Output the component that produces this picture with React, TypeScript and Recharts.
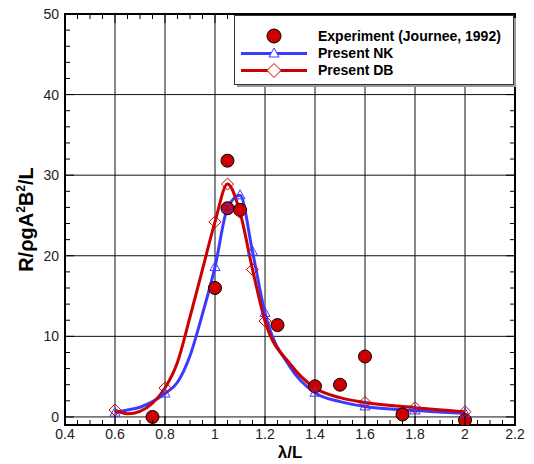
import React from "react";
import {
  ComposedChart,
  Line,
  Scatter,
  XAxis,
  YAxis,
  CartesianGrid,
  Legend,
  ReferenceArea,
} from "recharts";

// ---------- data ----------
const expX = [0.75, 1.0, 1.05, 1.05, 1.1, 1.25, 1.4, 1.5, 1.6, 1.75, 2.0];
const expY = [0.0, 16.0, 31.8, 25.9, 25.7, 11.4, 3.8, 4.0, 7.5, 0.3, -0.4];

const nkX = [0.6, 0.65, 0.7, 0.75, 0.8, 0.85, 0.9, 0.95, 1.0, 1.05, 1.1, 1.15, 1.2, 1.3, 1.4, 1.5, 1.6, 1.8, 2.0];
const nkY = [0.53, 0.85, 1.2, 1.9, 2.9, 4.3, 7.6, 12.8, 18.6, 25.9, 27.5, 20.5, 12.9, 6.2, 3.0, 1.9, 1.3, 0.8, 0.45];

const dbX = [0.6, 0.65, 0.7, 0.75, 0.8, 0.85, 0.9, 0.95, 1.0, 1.05, 1.1, 1.15, 1.2, 1.3, 1.4, 1.5, 1.6, 1.8, 2.0];
const dbY = [0.85, 0.4, 0.7, 1.7, 3.6, 6.8, 12.4, 18.3, 24.2, 28.9, 25.4, 18.3, 11.9, 6.6, 3.6, 2.4, 1.8, 1.15, 0.65];

// x positions where the computed curves carry a symbol
const markerX = [0.6, 0.8, 1.0, 1.05, 1.1, 1.15, 1.2, 1.4, 1.6, 1.8, 2.0];

const xTicks = [0.4, 0.6, 0.8, 1.0, 1.2, 1.4, 1.6, 1.8, 2.0, 2.2];
const yTicks = [0, 10, 20, 30, 40, 50];
const xMinorTicks = [
  0.45, 0.5, 0.55, 0.65, 0.7, 0.75, 0.85, 0.9, 0.95, 1.05, 1.1, 1.15, 1.25, 1.3,
  1.35, 1.45, 1.5, 1.55, 1.65, 1.7, 1.75, 1.85, 1.9, 1.95, 2.05, 2.1, 2.15,
];
const yMinorTicks = [2, 4, 6, 8, 12, 14, 16, 18, 22, 24, 26, 28, 32, 34, 36, 38, 42, 44, 46, 48];

const seriesNames = ["Experiment (Journee, 1992)", "Present NK", "Present DB"];

// ---------- built tables ----------
const expData = expX.map((x, i) => ({ x, y: expY[i] }));
const nkData = nkX.map((x, i) => ({ x, y: nkY[i] }));
const dbData = dbX.map((x, i) => ({ x, y: dbY[i] }));
const nkMarks = nkData.filter((p) => markerX.includes(p.x));
const dbMarks = dbData.filter((p) => markerX.includes(p.x));
const allXTicks = [...xTicks, ...xMinorTicks].sort((a, b) => a - b);
const allYTicks = [...yTicks, ...yMinorTicks].sort((a, b) => a - b);

// ---------- style ----------
const FONT = "'Liberation Sans', Arial, Helvetica, sans-serif";
const RED = "#cc0000";
const BLUE = "#3b3bff";
const PLOT_TOP = 14;
const PLOT_BOTTOM = 425;
const PLOT_LEFT = 65;
const PLOT_RIGHT = 515;
const MINOR = 5;
const MAJOR = 9;

const XTick = (props: any) => {
  const { x, payload } = props;
  const v = payload.value;
  const major = xTicks.includes(v);
  const len = major ? MAJOR : MINOR;
  return (
    <g>
      <line x1={x} x2={x} y1={PLOT_BOTTOM} y2={PLOT_BOTTOM - len} stroke="#000" strokeWidth={1} />
      <line x1={x} x2={x} y1={PLOT_TOP} y2={PLOT_TOP + len} stroke="#000" strokeWidth={1} />
      {major && (
        <text
          x={x}
          y={PLOT_BOTTOM + 4}
          dy="0.71em"
          textAnchor="middle"
          fontFamily={FONT}
          fontSize={14}
          fill="#222"
        >
          {String(v)}
        </text>
      )}
    </g>
  );
};

const YTick = (props: any) => {
  const { y, payload } = props;
  const v = payload.value;
  const major = yTicks.includes(v);
  const len = major ? MAJOR : MINOR;
  return (
    <g>
      <line x1={PLOT_LEFT} x2={PLOT_LEFT + len} y1={y} y2={y} stroke="#000" strokeWidth={1} />
      <line x1={PLOT_RIGHT - len} x2={PLOT_RIGHT} y1={y} y2={y} stroke="#000" strokeWidth={1} />
      {major && (
        <text
          x={PLOT_LEFT - 6}
          y={y}
          dy="0.355em"
          textAnchor="end"
          fontFamily={FONT}
          fontSize={14}
          fill="#222"
        >
          {String(v)}
        </text>
      )}
    </g>
  );
};

const Dot = (props: any) => {
  const { cx, cy } = props;
  return <circle cx={cx} cy={cy} r={6.5} fill={RED} stroke="#000" strokeWidth={1} />;
};

const Tri = (props: any) => {
  const { cx, cy } = props;
  return (
    <path
      d={`M${cx},${cy - 5.5}L${cx + 5},${cy + 3.5}L${cx - 5},${cy + 3.5}Z`}
      fill="none"
      stroke={BLUE}
      strokeWidth={1}
    />
  );
};

const Diamond = (props: any) => {
  const { cx, cy } = props;
  return (
    <path
      d={`M${cx},${cy - 6}L${cx + 6},${cy}L${cx},${cy + 6}L${cx - 6},${cy}Z`}
      fill="none"
      stroke={RED}
      strokeWidth={1}
    />
  );
};

const YLabel = () => {
  const cx = 33;
  const cy = 219.5;
  return (
    <text
      x={cx}
      y={cy}
      transform={`rotate(-90 ${cx} ${cy})`}
      textAnchor="middle"
      fontFamily={FONT}
      fontWeight="bold"
      fontSize={20}
      fill="#000"
    >
      R/ρgA
      <tspan dy={-8} fontSize={12}>2</tspan>
      <tspan dy={8}>B</tspan>
      <tspan dy={-8} fontSize={12}>2</tspan>
      <tspan dy={8}>/L</tspan>
    </text>
  );
};

const XLabel = () => (
  <text
    x={290}
    y={458}
    textAnchor="middle"
    fontFamily={FONT}
    fontWeight="bold"
    fontSize={17}
    fill="#000"
  >
    λ/L
  </text>
);

const LegendBox = () => {
  const textStyle = {
    fontFamily: FONT,
    fontWeight: "bold" as const,
    fontSize: 14,
    fill: "#000",
  };
  const sx = 40;
  return (
    <svg width={284} height={74} style={{ display: "block" }}>
      <rect x={3} y={3} width={279} height={69} fill="#9a9a9a" />
      <rect x={0.5} y={0.5} width={279} height={69} fill="#fff" stroke="#333" strokeWidth={1} />
      <circle cx={sx} cy={21} r={7} fill={RED} stroke="#000" strokeWidth={1} />
      <text x={84} y={25.7} {...textStyle}>{seriesNames[0]}</text>
      <line x1={7} x2={73} y1={38.5} y2={38.5} stroke={BLUE} strokeWidth={3} />
      <path
        d={`M${sx},${38.5 - 5.5}L${sx + 5},${38.5 + 3.5}L${sx - 5},${38.5 + 3.5}Z`}
        fill="#fff"
        stroke={BLUE}
        strokeWidth={1}
      />
      <text x={84} y={43.3} {...textStyle}>{seriesNames[1]}</text>
      <line x1={7} x2={73} y1={55.5} y2={55.5} stroke={RED} strokeWidth={3} />
      <path
        d={`M${sx},${55.5 - 7}L${sx + 7},${55.5}L${sx},${55.5 + 7}L${sx - 7},${55.5}Z`}
        fill="#fff"
        stroke={RED}
        strokeWidth={1}
      />
      <text x={84} y={60.3} {...textStyle}>{seriesNames[2]}</text>
    </svg>
  );
};

export default function App() {
  return (
    <div style={{ position: "absolute", left: 0, top: 0 }}>
      <ComposedChart
        width={534}
        height={464}
        margin={{ top: 14, right: 19, bottom: 0, left: 0 }}
      >
        <CartesianGrid
          stroke="#111"
          strokeWidth={1}
          horizontalValues={yTicks}
          verticalValues={xTicks}
        />
        <XAxis
          type="number"
          dataKey="x"
          domain={[0.4, 2.2]}
          ticks={allXTicks}
          interval={0}
          allowDataOverflow
          height={39}
          tickSize={0}
          tickMargin={4}
          tickLine={false}
          axisLine={false}
          tick={<XTick />}
          label={<XLabel />}
        />
        <YAxis
          type="number"
          dataKey="y"
          domain={[-1, 50]}
          ticks={allYTicks}
          interval={0}
          allowDataOverflow
          width={65}
          tickSize={0}
          tickMargin={6}
          tickLine={false}
          axisLine={false}
          tick={<YTick />}
          label={<YLabel />}
        />
        <Line
          data={nkData}
          dataKey="y"
          type="monotone"
          stroke={BLUE}
          strokeWidth={3}
          dot={false}
          activeDot={false}
          isAnimationActive={false}
          name={seriesNames[1]}
        />
        <Line
          data={dbData}
          dataKey="y"
          type="monotone"
          stroke={RED}
          strokeWidth={3}
          dot={false}
          activeDot={false}
          isAnimationActive={false}
          name={seriesNames[2]}
        />
        <Scatter
          data={expData}
          dataKey="y"
          shape={<Dot />}
          isAnimationActive={false}
          name={seriesNames[0]}
        />
        <Scatter
          data={nkMarks}
          dataKey="y"
          shape={<Tri />}
          isAnimationActive={false}
          legendType="none"
        />
        <Scatter
          data={dbMarks}
          dataKey="y"
          shape={<Diamond />}
          isAnimationActive={false}
          legendType="none"
        />
        <ReferenceArea
          x1={0.4}
          x2={2.2}
          y1={-1}
          y2={50}
          fill="none"
          fillOpacity={0}
          stroke="#000"
          strokeWidth={2}
          ifOverflow="visible"
        />
        <Legend
          layout="horizontal"
          verticalAlign="middle"
          align="center"
          wrapperStyle={{ position: "absolute", left: 234, top: 15, width: 284, height: 74 }}
          content={() => <LegendBox />}
        />
      </ComposedChart>
    </div>
  );
}
